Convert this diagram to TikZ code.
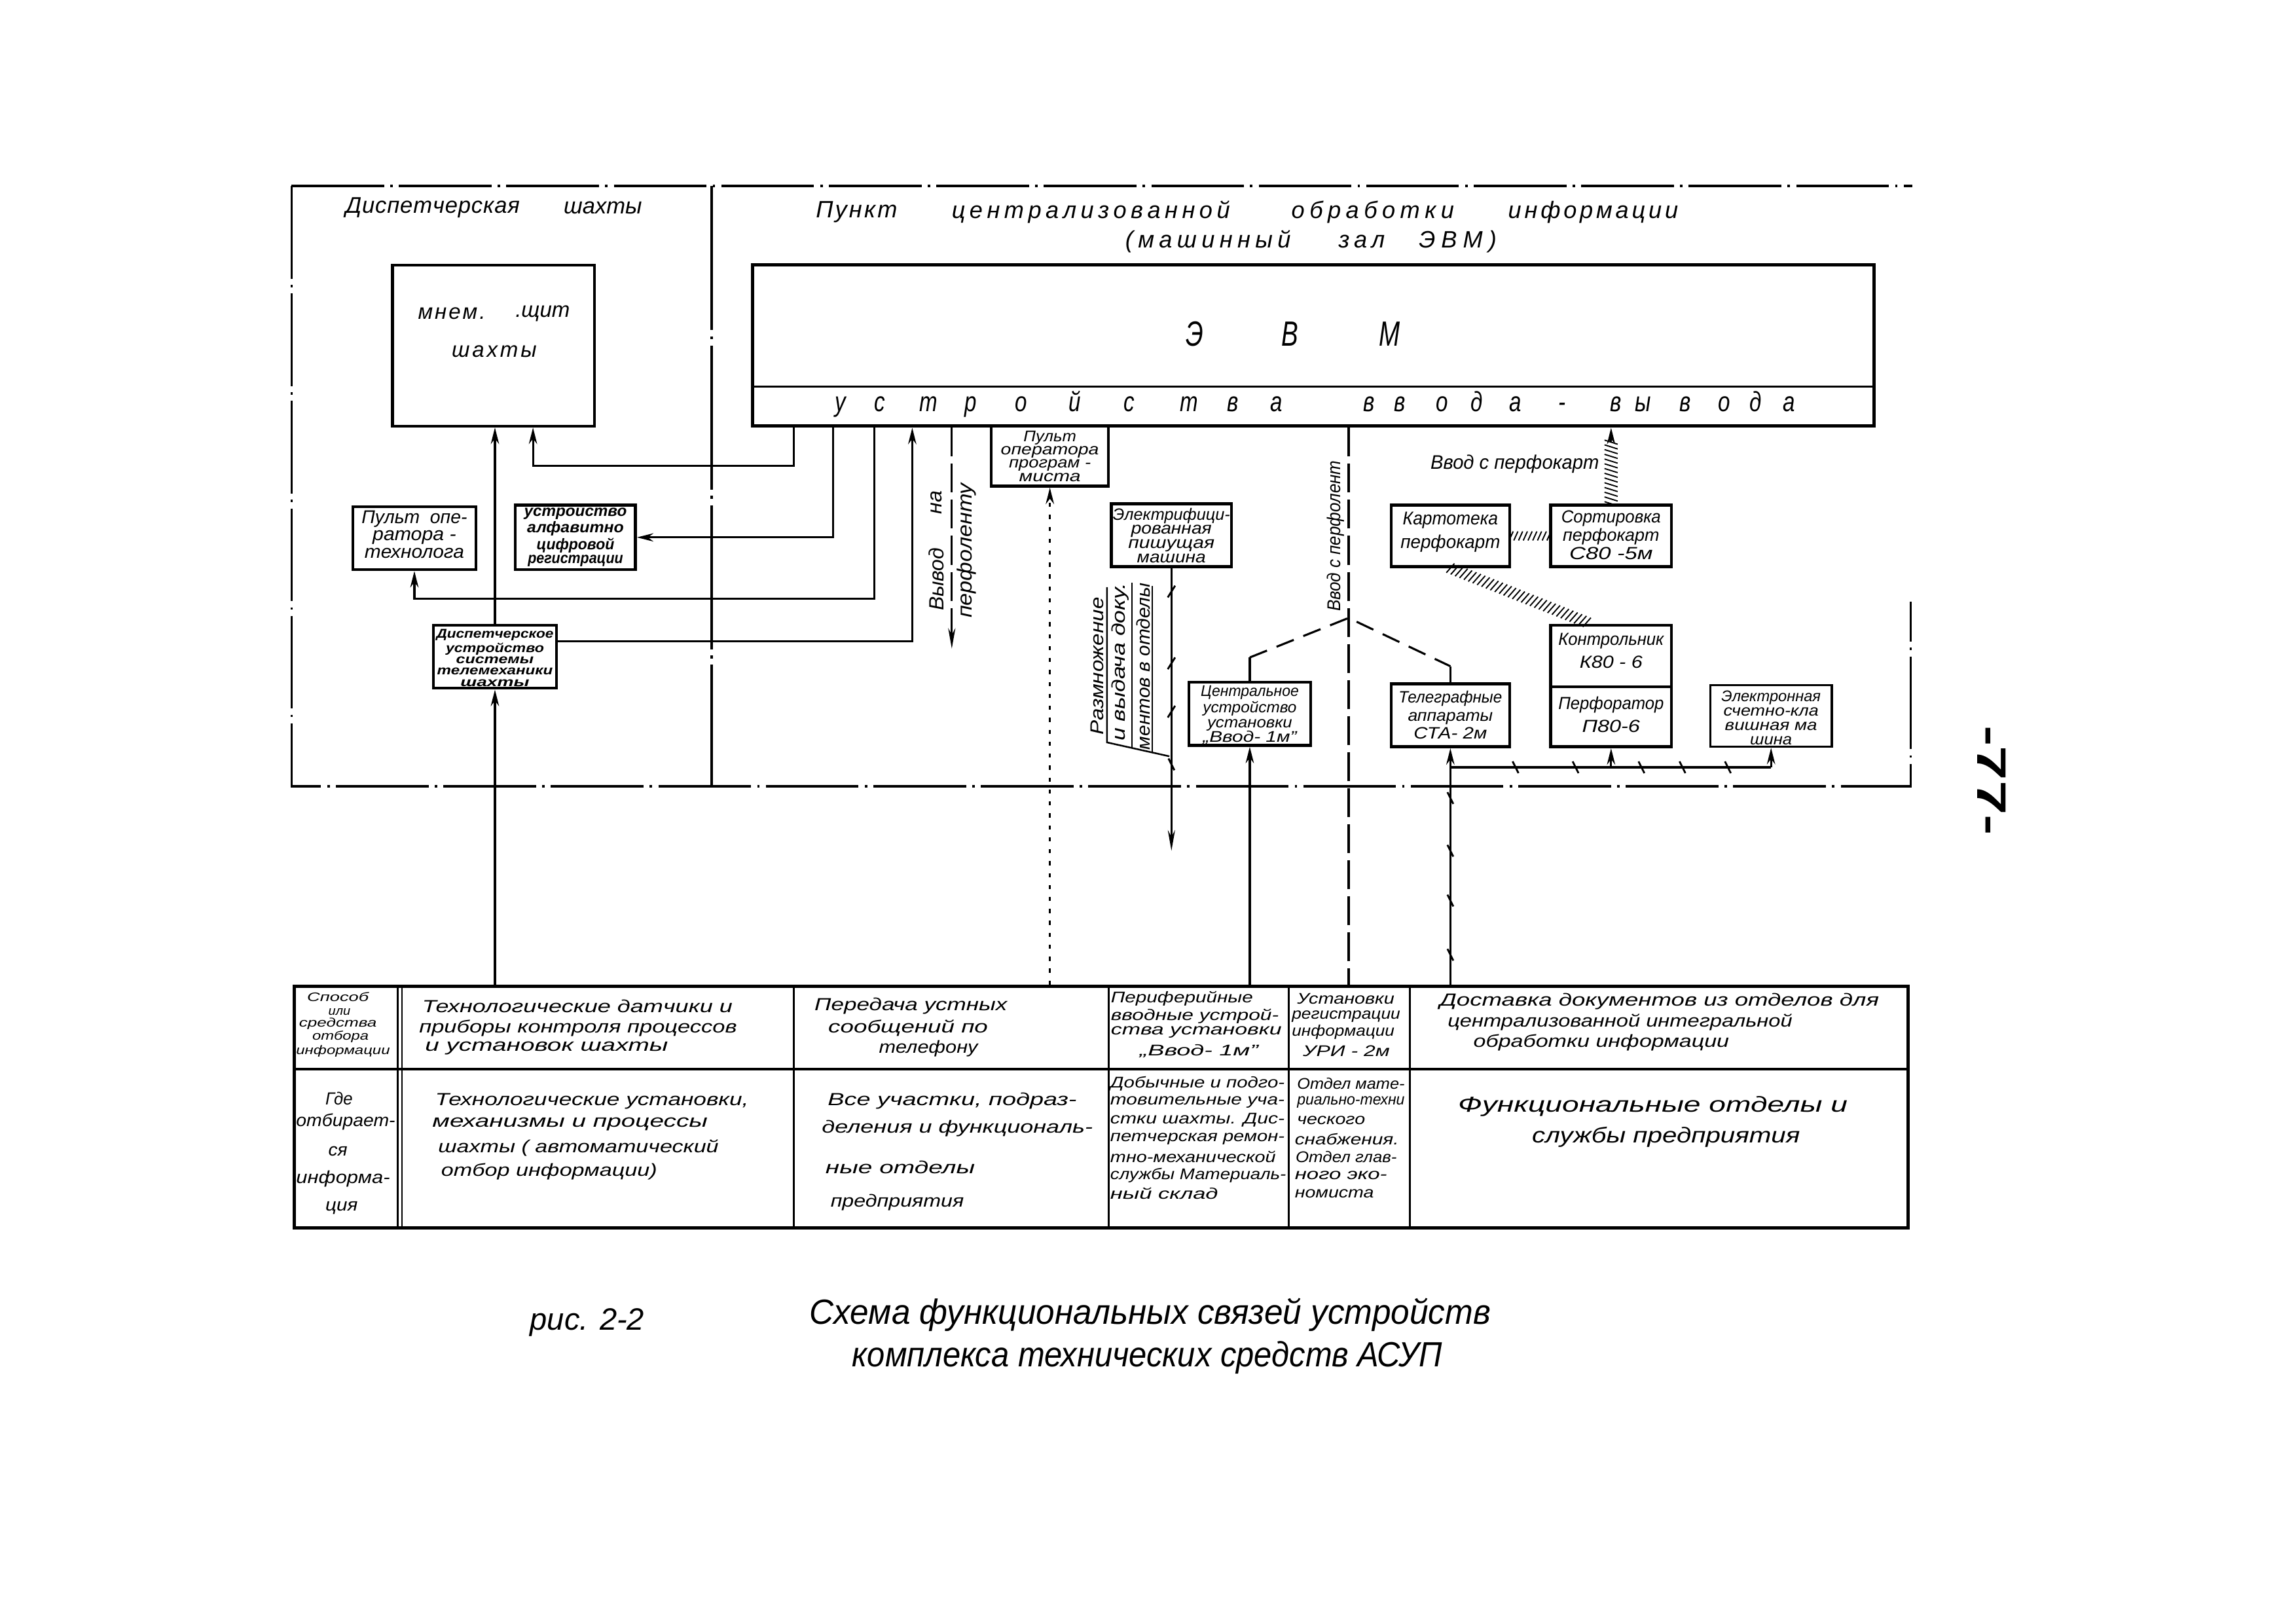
\documentclass[tikz,border=0pt]{standalone}
\usepackage{fontspec}
\setmainfont{Liberation Sans}
\usepackage{graphicx}
\usetikzlibrary{arrows.meta,decorations.markings,fit,calc}
\newlength\un
\setlength\un{0.025cm}
\newcommand\RS[2]{\resizebox{#1\un}{\height}{#2}}
\newcommand\BL[3][2.6pt]{\raisebox{-#1}[\height][\depth]{\RS{#2}{#3}}}
\makeatletter
\newcommand\SPR[2]{\makebox[#1\un][s]{\def\spr@sep{}\@tfor\spr@c:=#2\do{\spr@sep\spr@c\def\spr@sep{\hfil}}}}
\makeatother
\newcommand\fsz[2]{\itshape\fontsize{#1}{#2}\selectfont}
\newcounter{tl}
\newcommand\TL[5]{\stepcounter{tl}\edef\tlname{tl\arabic{tl}}\node[anchor=west,inner sep=0pt,font=\fsz{#5}{#5}] (\tlname) at (#1,#2) {\RS{#3}{#4}};}
\newcommand\bsl[2]{\draw[line width=0.9pt] (#1-2,#2-4) -- (#1+2,#2+4);}
\newcommand\fsl[2]{\draw[line width=0.9pt] (#1-2.5,#2+4) -- (#1+2.5,#2-4);}
\begin{document}
\begin{tikzpicture}[x=0.025cm,y=-0.025cm,
  fr/.style={line width=1pt,dash pattern=on 45pt off 3pt on 1.2pt off 3pt},
  bx/.style={draw,line width=1.4pt,inner sep=0pt,align=center},
  cn/.style={line width=1pt},
  arr/.style={-{Stealth[length=8pt,width=4pt]}},
  tx/.style={inner sep=0pt},
  hatch/.style={postaction={decorate,decoration={markings,mark=between positions 0 and 1 step 2.3pt with {\draw[line width=.6pt] (-1pt,-#1) -- (1pt,#1);}}}},
  dotl/.style={line width=1.1pt,dash pattern=on 2pt off 3.8pt},
  ldash/.style={line width=1pt,dash pattern=on 14pt off 3.5pt},
  mdash/.style={line width=1pt,dash pattern=on 9pt off 5pt}]
\useasboundingbox (0,0) rectangle (1568,1108);
\fill[white] (0,0) rectangle (1568,1108);

% ---------- frame ----------
\draw[fr] (199,127) -- (1306,127);
\draw[fr] (199,127) -- (199,537) -- (1305,537) -- (1305,411);
\draw[line width=1.3pt,dash pattern=on 70pt off 3pt on 1.5pt off 3pt] (486,127) -- (486,537);

% ---------- titles ----------
\node[tx,font=\fsz{11}{11}] (tD1) at (295.5,142) {\SPR{119}{Диспетчерская}};
\node[tx,font=\fsz{11}{11}] (tD2) at (410,142) {\SPR{50}{шахты}};
\node[tx,font=\fsz{11.5}{11.5}] (tP1) at (585,145) {\SPR{55.5}{Пункт}};
\node[tx,font=\fsz{11.5}{11.5}] (tP2) at (745,145) {\SPR{190}{централизованной}};
\node[tx,font=\fsz{11.5}{11.5}] (tP3) at (937.5,145) {\SPR{111}{обработки}};
\node[tx,font=\fsz{11.5}{11.5}] (tP4) at (1088,145) {\SPR{116}{информации}};
\node[tx,font=\fsz{11.5}{11.5}] (tP5) at (825,165) {\SPR{113}{(машинный}};
\node[tx,font=\fsz{11.5}{11.5}] (tP6) at (930,165) {\SPR{31.6}{зал}};
\node[tx,font=\fsz{11.5}{11.5}] (tP7) at (995.5,165) {\SPR{53}{ЭВМ)}};

% ---------- ЭВМ ----------
\node[bx,line width=1.6pt,fit={(514,181) (1280,291)}] (evm) {};
\draw[line width=1.2pt] (514,264) -- (1280,264);
\foreach \myc/\xx [count=\i] in {Э/816,В/881,М/949}
  \node[tx,font=\fsz{17}{17}] (ev\i) at (\xx,228) {\scalebox{0.72}[1]{\myc}};
\foreach \myc/\xx [count=\i] in {у/574,с/601,т/634,р/663,о/697.5,й/734,с/771,т/812,в/842,а/871.6,в/935,в/956,о/985,д/1008.7,а/1035,-/1067,в/1103.7,ы/1122,в/1151,о/1177.7,д/1198.8,а/1222}
  \node[tx,font=\fsz{13.5}{13.5},anchor=base] (u\i) at (\xx,281) {\scalebox{0.78}[1]{\myc}};

% ---------- dispatcher boxes ----------
\node[bx,fit={(268,181) (406,291)}] (mnem) {};
\node[tx,font=\fsz{10.5}{10.5}] (mn1) at (308.5,214) {\SPR{46}{мнем.}};
\node[tx,font=\fsz{10.5}{10.5}] (mn2) at (368,214) {\SPR{32}{.щит}};
\node[tx,font=\fsz{10.5}{10.5}] (mn3) at (337.5,240) {\SPR{58}{шахты}};

\node[bx,fit={(241,346) (325,389)},font=\fsz{9}{8.4}] (pultT) {\BL[1.3pt]{72}{Пульт\ \ опе-}\\\BL[1.3pt]{57}{ратора -}\\\BL[1.3pt]{68}{технолога}};
\node[bx,align=left,fit={(352,345) (434,389)},font=\fsz{7.5}{6.8}\bfseries] (ustr) {\BL[2pt]{70}{устройство}\\\BL[2pt]{66}{алфавитно}\\\BL[2pt]{53}{цифровой}\\\BL[2pt]{65}{регистрации}};
\node[bx,fit={(296,427) (380,470)},font=\fsz{6.2}{5.5}\bfseries] (disp) {\BL{80}{Диспетчерское}\\\BL{67}{устройство}\\\BL{53}{системы}\\\BL{79}{телемеханики}\\\BL{47}{шахты}};

% ---------- machine hall boxes ----------
\node[bx,fit={(677,291) (757,332)},font=\fsz{7.5}{6.5}] (prog) {\BL{36}{Пульт}\\\BL{67}{оператора}\\\BL{56}{програм -}\\\BL{42}{миста}};
\node[bx,align=left,fit={(759,344) (841,387)},font=\fsz{8}{6.9}] (mash) {\BL[3pt]{80}{Электрифици-}\\\BL[3pt]{55}{рованная}\\\BL[3pt]{59}{пишущая}\\\BL[3pt]{47}{машина}};
\node[bx,fit={(812,466) (895,509)},font=\fsz{7.5}{7}] (centr) {\BL[3pt]{67}{Центральное}\\\BL[3pt]{64}{устройство}\\\BL[3pt]{58}{установки}\\\BL[3pt]{64}{„Ввод- 1м”}};
\node[bx,fit={(950,345) (1031,387)},font=\fsz{9}{11.5}] (kart) {\BL[1.2pt]{65}{Картотека}\\\BL[1.2pt]{68}{перфокарт}};
\node[bx,fit={(1059,345) (1141.5,387)},font=\fsz{8.5}{8.8}] (sort) {\BL{68}{Сортировка}\\\BL{66}{перфокарт}\\\BL{57}{С80 -5м}};
\node[bx,fit={(1059,427) (1141.5,469)},font=\fsz{8.5}{11}] (kontr) {\BL[0.3pt]{72}{Контрольник}\\\BL[0.3pt]{43}{К80 - 6}};
\node[bx,fit={(1059,469) (1141.5,510)},font=\fsz{8.5}{11}] (perf) {\BL[2pt]{72}{Перфоратор}\\\BL[2pt]{39.5}{П80-6}};
\node[bx,fit={(950,467) (1031,510)},font=\fsz{8}{8.8}] (teleg) {\BL[2.8pt]{70.6}{Телеграфные}\\\BL[2.8pt]{58}{аппараты}\\\BL[2.8pt]{50}{СТА- 2м}};
\node[bx,line width=1pt,fit={(1168,468) (1251,510)},font=\fsz{7.5}{7}] (elec) {\BL[3.6pt]{67.8}{Электронная}\\\BL[3.6pt]{65}{счетно-кла}\\\BL[3.6pt]{63}{вишная ма}\\\BL[3.6pt]{28.6}{шина}};

% ---------- table ----------
\node[draw,line width=1.5pt,inner sep=0pt,fit={(201,673.5) (1303,838.5)}] (tab) {};
\foreach \xa/\xb [count=\i] in {201/271.5,271.5/542,542/757,757/880,880/963,963/1303}{
  \node[draw,line width=0.9pt,inner sep=0pt,fit={(\xa,673.5) (\xb,730)}] (h\i) {};
  \node[draw,line width=0.9pt,inner sep=0pt,fit={(\xa,730) (\xb,838.5)}] (r\i) {};
}
\draw[line width=1.3pt] (201,730) -- (1303,730);
\draw[line width=0.9pt] (274.5,673.5) -- (274.5,838.5);

% ---------- named bend points ----------
\coordinate (k1) at (542,318);
\coordinate (k2) at (569,367);
\coordinate (k3) at (597,409);
\coordinate (k4) at (623,438);
\coordinate (k5) at (650,443);
\coordinate (J) at (921,422);
\coordinate (cL) at (853.5,449);
\coordinate (cR) at (990.5,455);
\coordinate (mE) at (800,581);
\coordinate (bT) at (990.5,524);
\coordinate (bE) at (1209.5,524);

% ---------- connectors, dispatcher side ----------
\draw[cn,arr] (evm.south -| k1) -- (k1) -| ($(mnem.south)+(27,0)$);
\draw[cn,arr] (evm.south -| k2) -- (k2) -- (ustr.east);
\draw[cn,arr] (evm.south -| k3) -- (k3) -| (pultT.south);
\draw[cn,arr] (disp.east |- k4) -- (k4) -- (evm.south -| k4);
\draw[cn,arr] (disp.north) -- (disp.north |- mnem.south);
\draw[cn,arr] (disp.south |- tab.north) -- (disp.south);

% ---------- Вывод на перфоленту ----------
\draw[ldash,-{Stealth[length=10pt,width=3.5pt]}] (evm.south -| k5) -- (k5);
\node[tx,rotate=90,font=\fsz{10}{10}] (lV1) at (639.5,395.6) {\RS{43}{Вывод}};
\node[tx,rotate=90,font=\fsz{10}{10}] (lV2) at (639.5,343) {\RS{16}{на}};
\node[tx,rotate=90,font=\fsz{10}{10}] (lV3) at (660,376) {\RS{92}{перфоленту}};

% ---------- program operator ----------
\draw[dotl,arr] (prog.south |- tab.north) -- (prog.south);

% ---------- typewriter ----------
\draw[cn,-{Stealth[length=10pt,width=3.5pt]}] (mash.south) -- (mE);
\fsl{800}{404}\fsl{800}{453}\fsl{800}{486}\bsl{800}{522}
\node[tx,rotate=90,font=\fsz{9}{9}] (lR1) at (749.5,455) {\RS{94}{Размножение}};
\node[tx,rotate=90,font=\fsz{9}{9}] (lR2) at (765,452) {\RS{108}{и выдача доку.}};
\node[tx,rotate=90,font=\fsz{9}{9}] (lR3) at (781,455) {\RS{114}{ментов в отделы}};
\draw[line width=0.8pt] (756,401) -- (756,507) -- (798.6,516.5);
\draw[line width=0.8pt] (773,398) -- (773,510.8);
\draw[line width=0.8pt] (787,400) -- (787,513.9);

% ---------- Ввод-1м, telegraph ----------
\draw[cn,arr] (centr.south |- tab.north) -- (centr.south);
\draw[cn] (centr.north) -- (cL);
\draw[mdash] (cL) -- (J) -- (cR);
\draw[cn] (cR) -- (teleg.north);
\draw[ldash] (evm.south -| J) -- (J) -- (J |- tab.north);
\node[tx,rotate=90,font=\fsz{9}{9}] (lVp) at (912,366) {\RS{103}{Ввод с перфолент}};

\draw[cn,arr] (teleg.south |- tab.north) -- (teleg.south);
\bsl{990.5}{545}\bsl{990.5}{581}\bsl{990.5}{615}\bsl{990.5}{652}
\draw[cn] (bT) -- (bE);
\draw[cn,arr] (bT -| perf.south) -- (perf.south);
\draw[cn,arr] (bE) -- (elec.south);
\bsl{1035}{524}\bsl{1076}{524}\bsl{1121}{524}\bsl{1149}{524}\bsl{1180}{524}

% ---------- punched cards ----------
\path[hatch=2.2pt] (kart.east) -- (sort.west);
\path[hatch=2.8pt] (kart.south) -- ($(kontr.north)+(-14,0)$);
\path[hatch=3.2pt] (sort.north) -- ($(evm.south -| sort.north)+(0,9)$);
\draw[cn,arr] ($(evm.south -| sort.north)+(0,10)$) -- (evm.south -| sort.north);
\node[tx,font=\fsz{9.5}{9.5}] (lVk) at (1034.5,317) {\RS{115}{Ввод с перфокарт}};

% ---------- table texts ----------
\TL{209.5}{681}{42}{Способ}{6}
\TL{224}{691}{15}{или}{6}
\TL{204}{699}{53}{средства}{6}
\TL{213}{708}{38.5}{отбора}{6}
\TL{202}{718}{64}{информации}{6}
\TL{222}{750}{18.5}{Где}{8.5}
\TL{202}{766}{67.6}{отбирает-}{8.5}
\TL{224}{786}{13}{ся}{8.5}
\TL{202}{805}{64}{информа-}{8.5}
\TL{222}{825}{22}{ция}{8.5}

\TL{288}{687}{212}{Технологические датчики и}{8.5}
\TL{286}{702}{217}{приборы контроля процессов}{8.5}
\TL{290}{716}{166}{и установок шахты}{8.5}
\TL{297}{752}{214}{Технологические установки,}{8.5}
\TL{295}{767.5}{188}{механизмы и процессы}{8.5}
\TL{299}{784}{191.5}{шахты ( автоматический}{8.5}
\TL{301}{800}{147.5}{отбор информации)}{8.5}

\TL{556}{687}{131.6}{Передача устных}{8.5}
\TL{565.4}{702}{109}{сообщений по}{8.5}
\TL{600}{716}{67.5}{телефону}{8.5}
\TL{565}{752}{170}{Все участки, подраз-}{8.5}
\TL{561}{770.5}{185}{деления и функциональ-}{8.5}
\TL{563.5}{797}{102}{ные отделы}{8.5}
\TL{567}{821}{91}{предприятия}{8.5}

\TL{758.4}{682}{97}{Периферийные}{7.5}
\TL{758.4}{694}{114.6}{вводные устрой-}{7.5}
\TL{758.4}{705}{116.6}{ства установки}{7.5}
\TL{778}{717.6}{81}{„Ввод- 1м”}{7.5}
\TL{758}{740}{119}{Добычные и подго-}{7.5}
\TL{758}{752.6}{119}{товительные уча-}{7.5}
\TL{758}{765}{119}{стки шахты. Дис-}{7.5}
\TL{758}{778}{119}{петчерская ремон-}{7.5}
\TL{758}{790}{113}{тно-механической}{7.5}
\TL{758}{802.6}{120}{службы Материаль-}{7.5}
\TL{758}{815}{73.6}{ный склад}{7.5}

\TL{885.6}{682}{66.4}{Установки}{7.5}
\TL{882}{694}{74}{регистрации}{7.5}
\TL{882}{705}{70}{информации}{7.5}
\TL{889.5}{717.6}{59.3}{УРИ - 2м}{7.5}
\TL{885.6}{740}{73.4}{Отдел мате-}{7.5}
\TL{885.6}{752.6}{73.4}{риально-техни}{7.5}
\TL{885.6}{765}{46.4}{ческого}{7.5}
\TL{884}{778}{71}{снабжения.}{7.5}
\TL{884.6}{790}{69}{Отдел глав-}{7.5}
\TL{884}{802.6}{63}{ного эко-}{7.5}
\TL{884}{815}{54}{номиста}{7.5}

\TL{983}{684}{300}{Доставка документов из отделов для}{8.5}
\TL{988.4}{698}{235.4}{централизованной интегральной}{8.5}
\TL{1006}{712}{174.6}{обработки информации}{8.5}
\TL{995.5}{755.6}{266}{Функциональные отделы и}{10.5}
\TL{1046}{776.5}{183}{службы предприятия}{10.5}

% ---------- caption ----------
\node[tx,font=\fsz{15}{15}] (cap0) at (401,903) {\RS{78}{рис. 2-2}};
\node[tx,font=\fsz{17}{17}] (cap1) at (785.5,898) {\RS{465}{Схема функциональных связей устройств}};
\node[tx,font=\fsz{17}{17}] (cap2) at (783.5,927) {\RS{403}{комплекса технических средств АСУП}};
\node[tx,rotate=-90,font=\bfseries\fontsize{20}{20}\selectfont] (pg) at (1360,533) {\RS{75}{-77-}};
\end{tikzpicture}
\end{document}
